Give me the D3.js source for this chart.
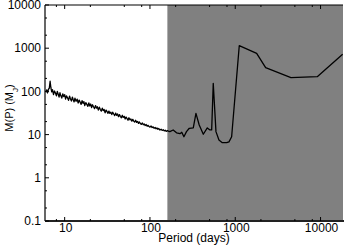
<!DOCTYPE html>
<html>
<head>
<meta charset="utf-8">
<script src="https://cdn.jsdelivr.net/npm/d3@7"></script>
<style>
  body { margin: 0; background: #fff; }
  svg { display: block; font-family: 'Liberation Sans', Arial, sans-serif; }
  .tick-label { font-size: 12px; fill: #000; }
</style>
</head>
<body>
<div id="chart"></div>
<script>
// period in days
const periods = [
  6.0, 6.15, 6.3, 6.45, 6.6, 6.75, 6.9, 7.05, 7.2, 7.4,
  7.6, 7.8, 8.0, 8.2, 8.4, 8.6, 8.8, 9.0, 9.25, 9.5,
  9.75, 10.0, 10.25, 10.5, 10.8, 11.1, 11.4, 11.7, 12.0, 12.3,
  12.6, 12.9, 13.2, 13.6, 14.0, 14.4, 14.8, 15.2, 15.6, 16.0,
  16.4, 16.8, 17.2, 17.7, 18.2, 18.7, 19.2, 19.7, 20.2, 20.7,
  21.2, 21.8, 22.4, 23.0, 23.6, 24.2, 24.8, 25.5, 26.2, 26.9,
  27.6, 28.3, 29.0, 29.8, 30.6, 31.4, 32.2, 33.0, 33.9, 34.8,
  35.7, 36.6, 37.6, 38.6, 39.6, 40.6, 41.7, 42.8, 43.9, 45.0,
  46.2, 47.4, 48.6, 49.9, 51.2, 52.5, 53.9, 55.3, 56.7, 58.2,
  59.7, 61.3, 62.9, 64.5, 66.2, 67.9, 69.7, 71.5, 73.4, 75.3,
  77.3, 79.3, 81.4, 83.5, 85.7, 87.9, 90.2, 92.6, 95.0, 97.5,
  100, 103, 106, 109, 112, 115, 118, 121, 124, 127,
  131, 135, 139, 143, 147, 151, 155, 160,
  164, 171, 187, 205, 225, 236, 250, 268, 289, 322,
  346, 378, 422, 470, 505, 529, 552, 594, 644, 705,
  793, 844, 907, 1114, 1782, 2270, 4497, 9145, 18150
];
// minimum detectable mass M(P) in Jupiter masses
const masses = [
  96, 108, 92, 112, 118, 172, 120, 98, 110, 84,
  102, 92, 79, 100, 86, 74, 93, 80, 70, 88,
  76, 84, 66, 79, 71, 62, 78, 67, 60, 74,
  64, 57, 70, 59, 66, 54, 63, 56, 50, 61,
  53, 58, 47, 55, 50, 45, 54, 46, 51, 42,
  49, 44, 40, 47, 41, 44, 37, 43, 38, 35,
  41, 36, 38, 32, 37, 34, 31, 35, 31, 33,
  29, 33, 30, 27.5, 31.5, 28, 30, 26, 29, 26.5,
  24.5, 28, 25, 26.5, 23, 25.5, 23.5, 21.5, 24.5, 22,
  23, 20.5, 22.5, 20.5, 19.5, 21.5, 19.2, 20.2, 18.2, 19.6,
  18, 17.2, 18.6, 16.9, 17.6, 16.2, 17.1, 15.6, 16.4, 15.4,
  14.9, 15.8, 14.6, 15.1, 14.0, 14.6, 13.6, 14.2, 13.3, 13.8,
  12.8, 13.3, 12.5, 13.0, 12.2, 12.6, 11.9, 12.4,
  12, 11.7, 12.8, 11, 10.5, 11.3, 8.9, 11.7, 14, 14.3,
  31, 16.7, 10.2, 14.3, 12.8, 12.8, 154, 11.7, 7.5, 6.5,
  6.5, 6.8, 8.9, 1143, 762, 354, 208, 219, 723
];

const xTicks = [10, 100, 1000, 10000];
const yTicks = [0.1, 1, 10, 100, 1000, 10000];
const xMinor = [8, 20, 50, 80, 200, 500, 800, 2000, 5000, 8000];
const yMinor = [0.2, 0.5, 2, 5, 20, 50, 200, 500, 2000, 5000];
const shadeStart = 160; // days

const width = 344, height = 246;
const m = { left: 45, right: 343, top: 5, bottom: 221 };

const x = d3.scaleLog().domain([5.88, 18330]).range([m.left, m.right]);
const y = d3.scaleLog().domain([0.1, 10000]).range([m.bottom, m.top]);

const svg = d3.select('#chart').append('svg')
  .attr('width', width)
  .attr('height', height);

// shaded region
svg.append('rect')
  .attr('x', x(shadeStart))
  .attr('y', m.top)
  .attr('width', m.right - x(shadeStart))
  .attr('height', m.bottom - m.top)
  .attr('fill', '#808080');

// curve
const data = periods.map((p, i) => ({ p, v: masses[i] }));
const line = d3.line()
  .x(d => x(d.p))
  .y(d => y(d.v));

svg.append('path')
  .datum(data)
  .attr('d', line)
  .attr('fill', 'none')
  .attr('stroke', '#000')
  .attr('stroke-width', 1.3)
  .attr('stroke-linejoin', 'round');

// frame
const frame = svg.append('g').attr('stroke', '#000');
frame.append('line').attr('x1', m.left).attr('x2', m.left).attr('y1', m.top).attr('y2', m.bottom).attr('stroke-width', 1.2);
frame.append('line').attr('x1', m.left).attr('x2', m.right).attr('y1', m.top).attr('y2', m.top).attr('stroke-width', 1.2);
frame.append('line').attr('x1', m.left).attr('x2', m.right + 1).attr('y1', m.bottom).attr('y2', m.bottom).attr('stroke-width', 2).attr('stroke', '#222');

// ticks (inward)
const ticks = svg.append('g').attr('stroke', '#000').attr('stroke-width', 1);
ticks.selectAll('.xt').data(xTicks).join('line')
  .attr('x1', d => x(d)).attr('x2', d => x(d))
  .attr('y1', m.bottom).attr('y2', m.bottom - 4);
ticks.selectAll('.xtt').data(xTicks).join('line')
  .attr('x1', d => x(d)).attr('x2', d => x(d))
  .attr('y1', m.top).attr('y2', m.top + 4);
ticks.selectAll('.xm').data(xMinor).join('line')
  .attr('x1', d => x(d)).attr('x2', d => x(d))
  .attr('y1', m.bottom).attr('y2', m.bottom - 2);
ticks.selectAll('.xmt').data(xMinor).join('line')
  .attr('x1', d => x(d)).attr('x2', d => x(d))
  .attr('y1', m.top).attr('y2', m.top + 2);
ticks.selectAll('.yt').data(yTicks).join('line')
  .attr('x1', m.left).attr('x2', m.left + 4)
  .attr('y1', d => y(d)).attr('y2', d => y(d));
ticks.selectAll('.ym').data(yMinor).join('line')
  .attr('x1', m.left).attr('x2', m.left + 2)
  .attr('y1', d => y(d)).attr('y2', d => y(d));

// tick labels
svg.append('g').selectAll('text').data(xTicks).join('text')
  .attr('class', 'tick-label')
  .attr('x', d => x(d) + 1)
  .attr('y', 232)
  .attr('text-anchor', 'middle')
  .text(d => d3.format('d')(d));

svg.append('g').selectAll('text').data(yTicks).join('text')
  .attr('class', 'tick-label')
  .attr('x', 41)
  .attr('y', d => y(d))
  .attr('dy', '0.35em')
  .attr('text-anchor', 'end')
  .text(d => d < 1 ? d : d3.format('d')(d));

// axis titles
svg.append('text')
  .attr('x', 194)
  .attr('y', 242)
  .attr('text-anchor', 'middle')
  .style('font-size', '12px')
  .text('Period (days)');

const yl = svg.append('text')
  .attr('transform', 'translate(12.5,108) rotate(-90)')
  .attr('text-anchor', 'middle')
  .style('font-size', '11px');
yl.append('tspan').text('M(P) (M');
yl.append('tspan').attr('baseline-shift', 'sub').style('font-size', '8px').text('J');
yl.append('tspan').text(')');
</script>
</body>
</html>
